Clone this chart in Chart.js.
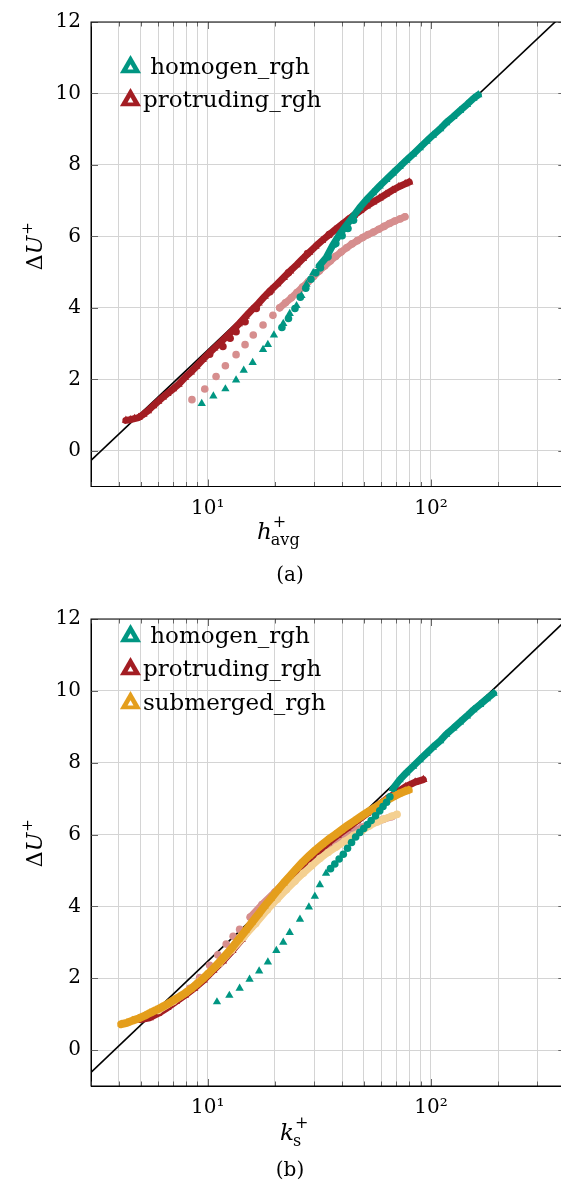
<!DOCTYPE html>
<html>
<head>
<meta charset="utf-8">
<script src="https://cdn.jsdelivr.net/npm/chart.js@4"></script>
<style>
  html, body { margin: 0; padding: 0; overflow: hidden; background: #fff; }
  .panel { width: 600px; height: 597px; }
  canvas { display: block; }
</style>
</head>
<body>
<div class="panel"><canvas id="chartA" width="600" height="597"></canvas></div>
<div class="panel"><canvas id="chartB" width="600" height="597"></canvas></div>
<script>
// ---- axis ticks ----
const xGridValues = [3, 4, 5, 6, 7, 8, 9, 10, 20, 30, 40, 50, 60, 70, 80, 90, 100, 200, 300, 400];
const xMajorValues = [10, 100];
const xLabelValues = [10, 100];
const xLabelTexts = ['10\u00B9', '10\u00B2'];
const yTickValues = [0, 2, 4, 6, 8, 10, 12];

// ---- (a) h_avg+ ----
const homTriSparseAX = [9.4, 10.6, 12.0, 13.4, 14.5, 15.9, 17.7, 18.6, 19.8, 21.8, 23.3, 25.0, 26.3, 27.7, 29.7];
const homTriSparseAY = [1.32, 1.53, 1.73, 1.98, 2.25, 2.47, 2.83, 2.97, 3.24, 3.56, 3.84, 4.06, 4.34, 4.66, 4.98];
const homBandAX = [31.6, 33.9, 36.3, 38.9, 41.7, 44.7, 47.9, 51.3, 55.0, 58.9, 63.1, 67.6, 72.4, 77.6, 83.2, 89.1, 95.5, 102, 110, 117, 126, 135, 145, 155, 163];
const homBandAY = [5.18, 5.40, 5.75, 6.05, 6.30, 6.55, 6.80, 7.02, 7.22, 7.41, 7.59, 7.77, 7.95, 8.13, 8.30, 8.48, 8.66, 8.83, 9.01, 9.18, 9.35, 9.52, 9.69, 9.86, 9.96];
const homCircAX = [21.5, 23.0, 24.6, 26.0, 27.5, 29.0, 30.5, 32.0, 34.6, 37.5, 40.0, 42.5, 45.0];
const homCircAY = [3.45, 3.70, 3.98, 4.30, 4.55, 4.80, 4.98, 5.12, 5.43, 5.80, 6.02, 6.22, 6.45];
const protBandAX = [4.3, 4.5, 4.7, 4.9, 5.15, 5.4, 5.7, 6.0, 6.3, 6.6, 7.0, 7.4, 7.9, 8.4, 8.9, 9.5, 10.1, 10.7, 11.4, 12.1, 12.9, 13.8, 14.8, 15.8, 16.9, 18.0, 19.2, 20.5, 21.9, 23.4, 25.0, 26.7, 28.5, 30.4, 32.5, 34.7, 37.1, 39.6, 42.3, 45.2, 48.3, 51.6, 55.1, 58.9, 62.9, 67.2, 71.8, 76.7, 80.0];
const protBandAY = [0.85, 0.87, 0.90, 0.93, 1.02, 1.12, 1.26, 1.38, 1.50, 1.60, 1.73, 1.86, 2.05, 2.20, 2.36, 2.55, 2.72, 2.87, 3.03, 3.19, 3.36, 3.55, 3.76, 3.95, 4.13, 4.32, 4.50, 4.67, 4.85, 5.03, 5.20, 5.38, 5.55, 5.72, 5.88, 6.03, 6.18, 6.32, 6.46, 6.59, 6.72, 6.85, 6.96, 7.07, 7.18, 7.29, 7.39, 7.47, 7.52];
const protCircAX = [10.2, 11.7, 12.6, 13.4, 14.7, 16.5, 19.0, 23.0, 28.0, 35.0, 45.0];
const protCircAY = [2.70, 2.92, 3.15, 3.33, 3.61, 3.98, 4.45, 4.98, 5.52, 6.05, 6.57];
const pinkSparseAX = [8.5, 9.7, 10.9, 12.0, 13.4, 14.7, 16.0, 17.7, 19.6];
const pinkSparseAY = [1.43, 1.73, 2.08, 2.38, 2.69, 2.97, 3.24, 3.52, 3.79];
const pinkBandAX = [21.0, 22.3, 23.7, 25.1, 26.6, 28.2, 29.8, 31.6, 33.4, 35.4, 37.4, 39.6, 41.9, 44.3, 46.8, 49.5, 52.3, 55.3, 58.4, 61.7, 65.2, 68.9, 72.8, 76.5];
const pinkBandAY = [4.00, 4.14, 4.28, 4.43, 4.58, 4.73, 4.88, 5.03, 5.17, 5.31, 5.44, 5.56, 5.68, 5.79, 5.88, 5.97, 6.05, 6.12, 6.20, 6.28, 6.36, 6.43, 6.49, 6.55];
const lineAX = [3, 400];
const lineAY = [-0.27, 12.27];

// ---- (b) k_s+ ----
const homTriSparseBX = [11.0, 12.5, 13.9, 15.4, 17.0, 18.6, 20.3, 21.8, 23.3, 25.9, 28.4, 30.2, 31.8, 33.9];
const homTriSparseBY = [1.34, 1.52, 1.72, 1.97, 2.20, 2.45, 2.77, 3.00, 3.27, 3.64, 3.98, 4.28, 4.60, 4.92];
const homCircBX = [35.5, 37.1, 38.8, 40.5, 42.3, 44.1, 46.0, 48.0, 50.0, 52.0, 54.0, 56.5, 59.0, 61.0, 63.3, 65.5];
const homCircBY = [5.05, 5.18, 5.32, 5.45, 5.62, 5.78, 5.93, 6.06, 6.17, 6.28, 6.39, 6.52, 6.66, 6.78, 6.90, 7.05];
const homBandBX = [67.6, 72.4, 77.6, 83.2, 89.1, 95.5, 102, 110, 117, 126, 135, 145, 155, 166, 178, 191];
const homBandBY = [7.28, 7.52, 7.72, 7.90, 8.08, 8.26, 8.43, 8.61, 8.79, 8.96, 9.13, 9.30, 9.47, 9.62, 9.78, 9.93];
const protBandBX = [5.0, 5.5, 6.0, 6.6, 7.2, 7.9, 8.7, 9.6, 10.6, 11.7, 12.9, 14.2, 15.6, 17.2, 19.0, 21.0, 23.2, 25.6, 28.3, 31.3, 34.6, 38.2, 42.2, 46.7, 51.6, 57.0, 63.0, 69.6, 77.0, 85.0, 92.5];
const protBandBY = [0.85, 0.90, 1.02, 1.18, 1.35, 1.52, 1.72, 1.95, 2.22, 2.48, 2.77, 3.08, 3.41, 3.75, 4.08, 4.40, 4.71, 5.00, 5.28, 5.53, 5.77, 5.98, 6.18, 6.38, 6.58, 6.78, 6.98, 7.16, 7.33, 7.46, 7.53];
const pinkSparseBX = [7.5, 8.3, 9.2, 10.2, 11.1, 12.1, 13.0, 13.9];
const pinkSparseBY = [1.45, 1.72, 2.02, 2.36, 2.65, 2.95, 3.17, 3.36];
const pinkBandBX = [15.5, 17.5, 20.0, 23.0, 26.5, 30.0, 34.0, 38.5, 43.5, 49.0, 55.0, 61.0, 67.0];
const pinkBandBY = [3.70, 4.05, 4.40, 4.78, 5.12, 5.40, 5.65, 5.87, 6.05, 6.20, 6.32, 6.42, 6.50];
const subBandBX = [4.1, 4.35, 4.6, 4.9, 5.2, 5.5, 5.85, 6.2, 6.6, 7.0, 7.45, 7.9, 8.4, 8.9, 9.5, 10.1, 10.7, 11.4, 12.1, 12.9, 13.8, 14.8, 15.8, 16.9, 18.0, 19.2, 20.5, 21.9, 23.4, 25.0, 26.7, 28.5, 30.4, 32.5, 34.7, 37.1, 39.6, 42.3, 45.2, 48.3, 51.6, 55.1, 58.9, 62.9, 67.2, 71.8, 76.7, 79.5];
const subBandBY = [0.72, 0.76, 0.82, 0.88, 0.95, 1.03, 1.11, 1.19, 1.28, 1.38, 1.48, 1.58, 1.70, 1.83, 1.98, 2.14, 2.30, 2.48, 2.66, 2.86, 3.09, 3.33, 3.56, 3.79, 4.01, 4.22, 4.44, 4.65, 4.85, 5.05, 5.24, 5.41, 5.57, 5.72, 5.86, 5.99, 6.12, 6.25, 6.37, 6.49, 6.61, 6.72, 6.83, 6.94, 7.04, 7.13, 7.21, 7.24];
const subCircBX = [6.0, 7.0, 8.0, 9.0, 10.0, 11.3, 12.8, 14.5, 16.4, 18.5, 20.5, 22.5, 24.6, 26.8, 29.2, 31.8, 34.6, 37.7, 41.1, 44.9, 49.0, 53.0, 57.5, 62.0, 66.6, 70.5];
const subCircBY = [1.10, 1.35, 1.60, 1.88, 2.12, 2.42, 2.78, 3.15, 3.52, 3.90, 4.20, 4.46, 4.70, 4.92, 5.13, 5.33, 5.50, 5.65, 5.81, 5.97, 6.10, 6.24, 6.35, 6.44, 6.51, 6.56];
const lineBX = [3, 400];
const lineBY = [-0.62, 11.95];

const legendNamesA = [' homogen_rgh', 'protruding_rgh'];
const legendNamesB = [' homogen_rgh', 'protruding_rgh', 'submerged_rgh'];

// colours
const teal = 'rgb(0,150,130)';
const darkRed = 'rgb(163,29,35)';
const pink = 'rgb(214,142,142)';
const orange = 'rgb(228,158,28)';
const lightOrange = 'rgb(244,208,145)';
const gridColor = '#d4d4d4';
const serif = "'DejaVu Serif', 'Liberation Serif', serif";

const triR = 4.8;
const circR = 3.8;
const bandW = 7;

function pts(xs, ys) {
    return xs.map((x, i) => ({ x: x, y: ys[i] }));
}

function markers(xs, ys, color, style, r) {
    return {
        data: pts(xs, ys),
        pointStyle: style,
        pointRadius: r,
        pointBackgroundColor: color,
        pointBorderColor: color,
        pointBorderWidth: 0,
        showLine: false
    };
}

// dense runs of markers: points plus a thick stroke of the same colour
function band(xs, ys, color, style, r, w) {
    const ds = markers(xs, ys, color, style, r);
    ds.showLine = true;
    ds.borderColor = color;
    ds.borderWidth = w;
    ds.borderJoinStyle = 'round';
    ds.borderCapStyle = 'round';
    return ds;
}

function refLine(xs, ys) {
    return {
        data: pts(xs, ys),
        showLine: true,
        borderColor: '#000',
        borderWidth: 1.6,
        pointRadius: 0
    };
}

// frame and inward tick marks, as pgfplots draws them
const frameTicks = {
    id: 'frameTicks',
    afterDatasetsDraw(chart) {
        const { ctx, chartArea: a, scales } = chart;
        const x = scales.x, y = scales.y;
        ctx.save();
        ctx.beginPath();
        x.ticks.forEach(t => {
            const px = Math.round(x.getPixelForValue(t.value)) + 0.5;
            const len = t.major ? 7 : 4.5;
            ctx.moveTo(px, a.bottom); ctx.lineTo(px, a.bottom - len);
            ctx.moveTo(px, a.top); ctx.lineTo(px, a.top + len);
        });
        y.ticks.forEach(t => {
            const py = Math.round(y.getPixelForValue(t.value)) + 0.5;
            ctx.moveTo(a.left, py); ctx.lineTo(a.left + 7, py);
            ctx.moveTo(a.right, py); ctx.lineTo(a.right - 7, py);
        });
        ctx.strokeStyle = '#666';
        ctx.lineWidth = 1;
        ctx.stroke();
        ctx.strokeStyle = '#000';
        ctx.strokeRect(a.left, a.top, a.right - a.left, a.bottom - a.top);
        ctx.restore();
    }
};

function legendTriangle(ctx, cx, cy, r, color) {
    ctx.beginPath();
    ctx.moveTo(cx, cy - r);
    ctx.lineTo(cx + r * 0.866, cy + r / 2);
    ctx.lineTo(cx - r * 0.866, cy + r / 2);
    ctx.closePath();
    ctx.fillStyle = color;
    ctx.fill();
}

function textPlugin(t) {
    return {
        id: 'figText',
        afterDraw(chart) {
            const ctx = chart.ctx;
            ctx.save();
            ctx.textBaseline = 'alphabetic';

            // legend
            t.names.forEach((name, i) => {
                const base = t.legendBase[i];
                legendTriangle(ctx, 130.5, base - 6.8, 12.2, t.colors[i]);
                legendTriangle(ctx, 130.5, base - 6.3, 3.4, '#fff');
                ctx.fillStyle = '#000';
                ctx.font = '23px ' + serif;
                ctx.textAlign = 'left';
                ctx.fillText(name, 143, base);
            });

            // x title: italic letter with sup + and sub text
            ctx.fillStyle = '#000';
            ctx.textAlign = 'left';
            ctx.font = 'italic 23px ' + serif;
            ctx.fillText(t.xLetter, t.xTitleX, t.xTitleBase);
            const w = ctx.measureText(t.xLetter).width;
            ctx.font = '16px ' + serif;
            ctx.fillText('+', t.xTitleX + w + 1, t.xTitleBase - 12);
            ctx.fillText(t.xSub, t.xTitleX + w - 1, t.xTitleBase + 6);

            // y title, rotated
            ctx.translate(t.yTitleX, t.yTitleY);
            ctx.rotate(-Math.PI / 2);
            ctx.font = '22px ' + serif;
            const wd = ctx.measureText('\u0394').width;
            ctx.font = 'italic 22px ' + serif;
            const wu = ctx.measureText('U').width;
            const x0 = -(wd + wu + 10) / 2;
            ctx.font = '22px ' + serif;
            ctx.fillText('\u0394', x0, 0);
            ctx.font = 'italic 22px ' + serif;
            ctx.fillText('U', x0 + wd, 0);
            ctx.font = '15px ' + serif;
            ctx.fillText('+', x0 + wd + wu + 1, -10);
            ctx.setTransform(1, 0, 0, 1, 0, 0);

            // caption
            ctx.font = '20px ' + serif;
            ctx.textAlign = 'center';
            ctx.fillText(t.caption, 290, t.captionBase);
            ctx.restore();
        }
    };
}

function makeChart(id, datasets, p) {
    new Chart(document.getElementById(id), {
        type: 'scatter',
        data: { datasets: datasets },
        options: {
            responsive: false,
            animation: false,
            devicePixelRatio: 1,
            events: [],
            layout: { padding: { left: 0, right: 34.7, top: p.plotTop, bottom: 0 } },
            plugins: { legend: { display: false }, tooltip: { enabled: false } },
            scales: {
                x: {
                    type: 'logarithmic',
                    min: 3,
                    max: 400,
                    afterBuildTicks: s => {
                        s.ticks = xGridValues.map(v => ({ value: v, major: xMajorValues.includes(v) }));
                    },
                    afterFit: s => { s.height = p.xAxisHeight; },
                    grid: { color: gridColor, lineWidth: 1, drawTicks: false },
                    border: { display: true, color: '#000' },
                    ticks: {
                        autoSkip: false,
                        maxRotation: 0,
                        padding: 10,
                        color: '#000',
                        font: { family: serif, size: 20 },
                        callback: v => {
                            const k = xLabelValues.indexOf(v);
                            return k >= 0 ? xLabelTexts[k] : '';
                        }
                    }
                },
                y: {
                    min: -1,
                    max: 12,
                    afterBuildTicks: s => {
                        s.ticks = yTickValues.map(v => ({ value: v }));
                    },
                    afterFit: s => { s.width = 91; },
                    grid: { color: gridColor, lineWidth: 1, drawTicks: false },
                    border: { display: true, color: '#000' },
                    ticks: {
                        padding: 10,
                        color: '#000',
                        font: { family: serif, size: 20 }
                    }
                }
            }
        },
        plugins: [frameTicks, textPlugin(p)]
    });
}

// first dataset is drawn on top
makeChart('chartA', [
    band(homBandAX, homBandAY, teal, 'triangle', triR, bandW),
    markers(homTriSparseAX, homTriSparseAY, teal, 'triangle', triR),
    markers(homCircAX, homCircAY, teal, 'circle', circR),
    markers(protCircAX, protCircAY, darkRed, 'circle', circR),
    band(protBandAX, protBandAY, darkRed, 'triangle', triR, bandW),
    band(pinkBandAX, pinkBandAY, pink, 'circle', circR, bandW),
    markers(pinkSparseAX, pinkSparseAY, pink, 'circle', circR),
    refLine(lineAX, lineAY)
], {
    plotTop: 12, xAxisHeight: 110.5,
    names: legendNamesA, colors: [teal, darkRed], legendBase: [74, 107],
    xLetter: 'h', xSub: 'avg', xTitleX: 257, xTitleBase: 539,
    yTitleX: 42, yTitleY: 248,
    caption: '(a)', captionBase: 581
});

makeChart('chartB', [
    band(homBandBX, homBandBY, teal, 'triangle', triR, bandW),
    markers(homTriSparseBX, homTriSparseBY, teal, 'triangle', triR),
    markers(homCircBX, homCircBY, teal, 'circle', circR),
    band(subBandBX, subBandBY, orange, 'triangle', triR, 8),
    band(subCircBX, subCircBY, lightOrange, 'circle', circR, bandW),
    band(protBandBX, protBandBY, darkRed, 'triangle', triR, bandW),
    band(pinkBandBX, pinkBandBY, pink, 'circle', circR, bandW),
    markers(pinkSparseBX, pinkSparseBY, pink, 'circle', circR),
    refLine(lineBX, lineBY)
], {
    plotTop: 15, xAxisHeight: 108,
    names: legendNamesB, colors: [teal, darkRed, orange], legendBase: [46, 79, 113],
    xLetter: 'k', xSub: 's', xTitleX: 280, xTitleBase: 543,
    yTitleX: 42, yTitleY: 248,
    caption: '(b)', captionBase: 579
});
</script>
</body>
</html>
